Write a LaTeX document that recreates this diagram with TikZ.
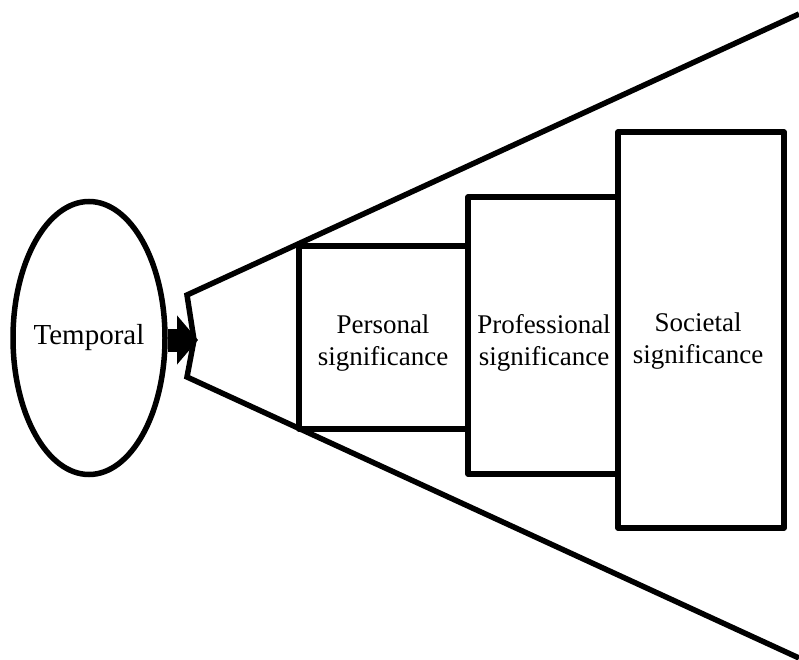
\documentclass[tikz,border=0pt]{standalone}
\usepackage{fontspec}
\setmainfont{Liberation Serif}
\usetikzlibrary{shapes.geometric,arrows.meta}
\begin{document}
\begin{tikzpicture}[x=1pt,y=-1pt,
  outline/.style={line width=5.5pt, draw=black},
  stage/.style={outline, rectangle, inner sep=0pt, line join=round},
  caption/.style={font=\fontsize{27}{31.5}\selectfont, align=center, inner sep=0pt},
]
\useasboundingbox (0,0) rectangle (799,660);

% widening funnel with a notch on its narrow end
\coordinate (ftop) at (799,14);
\coordinate (fnw) at (187,295);
\coordinate (fnotch) at (194,340);
\coordinate (fsw) at (187,377);
\coordinate (fbot) at (799,658);
\draw[line width=5.5pt, line join=miter] (ftop) -- (fnw) -- (fnotch) -- (fsw) -- (fbot);

% source of the funnel
\node[outline, ellipse, minimum width=152pt, minimum height=273pt, inner sep=0pt,
      font=\fontsize{29}{34}\selectfont] (temporal) at (89,338) {\makebox[0pt]{Temporal}};

% stages of significance, growing outward
\node[stage, minimum width=169pt, minimum height=183pt] (personal) at (383.5,337.5) {};
\node[stage, minimum width=150pt, minimum height=277pt] (professional) at (543,335.5) {};
\node[stage, minimum width=166pt, minimum height=396pt] (societal) at (701,330) {};

\node[caption] (personaltext) at (383,343) {Personal\\significance};
\node[caption] (professionaltext) at (544,343) {Professional\\significance};
\node[caption] (societaltext) at (698,341) {Societal\\significance};

% block arrow into the funnel
\coordinate (tip) at (198,340);
\draw[line width=23pt, -{Triangle[length=21pt,width=48pt]}] (temporal.east |- tip) -- (tip);
\end{tikzpicture}
\end{document}
